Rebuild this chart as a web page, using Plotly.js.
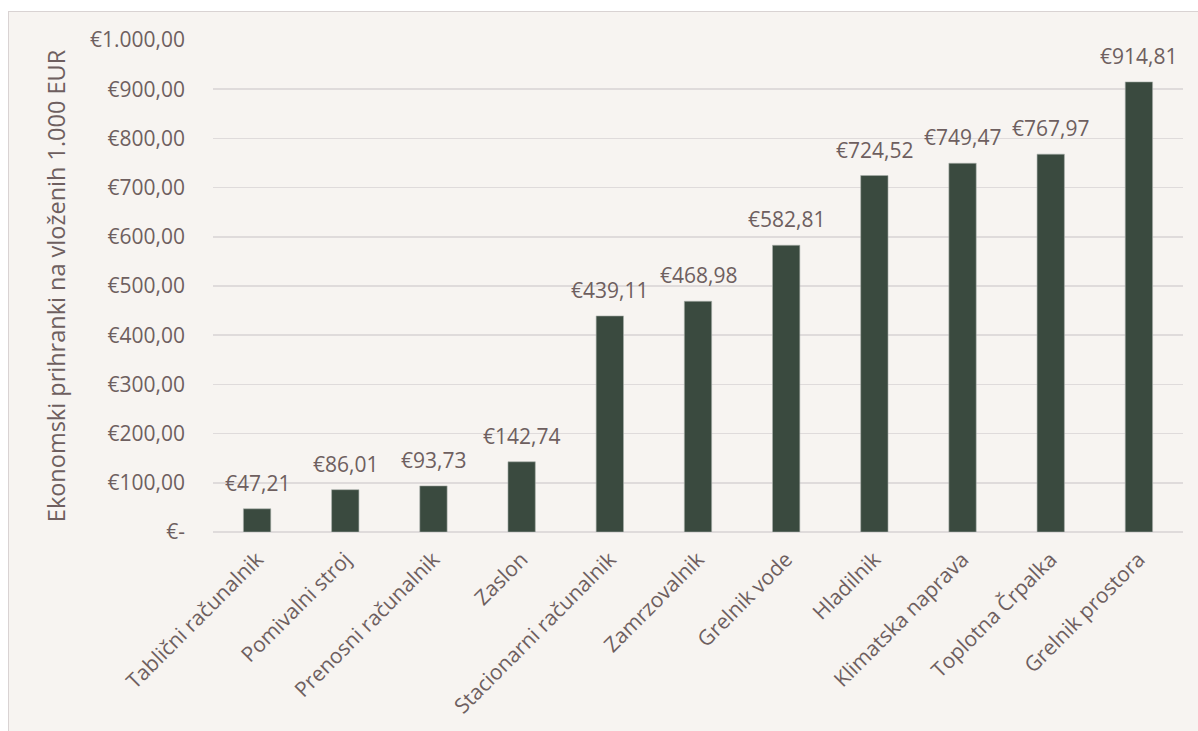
<!DOCTYPE html>
<html>
<head>
<meta charset="utf-8">
<script src="https://cdn.plot.ly/plotly-3.0.1.min.js"></script>
<style>
html,body{margin:0;padding:0;background:#ffffff;width:1198px;height:731px;overflow:hidden;}
#frame{position:absolute;left:8px;top:11px;width:1200px;height:730px;border-left:1.5px solid #d9d3d3;border-top:1.5px solid #d9d3d3;background:#f7f4f1;}
#chart{position:absolute;left:9px;top:12px;width:1189px;height:719px;}
</style>
</head>
<body>
<div id="frame"></div>
<div id="chart"></div>
<script>
const categories = ["Tablični računalnik","Pomivalni stroj","Prenosni računalnik","Zaslon","Stacionarni računalnik","Zamrzovalnik","Grelnik vode","Hladilnik","Klimatska naprava","Toplotna Črpalka","Grelnik prostora"];
const values = [47.21,86.01,93.73,142.74,439.11,468.98,582.81,724.52,749.47,767.97,914.81];
const yTickVals = [0,100,200,300,400,500,600,700,800,900,1000];
const yTitle = "Ekonomski prihranki na vloženih 1.000 EUR";

function eur(v){
  if(v===0) return "€-";
  const parts = v.toFixed(2).split(".");
  const intPart = parts[0].replace(/\B(?=(\d{3})+(?!\d))/g, ".");
  return "€" + intPart + "," + parts[1];
}
const labels = values.map(eur);
const yTickText = yTickVals.map(eur);

const fontColor = "#6e5f5f";
const fontFam = "Open Sans, sans-serif";

const annotations = categories.map((c, i) => ({
  x: c, y: values[i], xref: "x", yref: "y",
  text: labels[i], showarrow: false,
  yanchor: "middle", xanchor: "center", yshift: 26,
  font: {family: fontFam, size: 21, color: fontColor}
}));

Plotly.newPlot("chart", [{
  type: "bar",
  x: categories,
  y: values,
  marker: {color: "#3a4a3f", line: {color: "#aab0ab", width: 0.6}},
  hoverinfo: "skip"
}], {
  width: 1189, height: 719,
  paper_bgcolor: "rgba(0,0,0,0)",
  plot_bgcolor: "rgba(0,0,0,0)",
  margin: {l: 204, r: 15, t: 28, b: 199},
  bargap: 0.69,
  showlegend: false,
  font: {family: fontFam, size: 20, color: fontColor},
  annotations: annotations,
  xaxis: {
    tickangle: -45,
    tickfont: {family: fontFam, size: 21, color: fontColor},
    showgrid: false, zeroline: false, showline: false, ticks: "",
    ticklabelstandoff: 10,
    automargin: false
  },
  yaxis: {
    range: [0, 1000],
    tickvals: yTickVals,
    ticktext: yTickText,
    tickfont: {family: fontFam, size: 21, color: fontColor},
    gridcolor: "#dfdbdb", gridwidth: 1.5,
    zeroline: true, zerolinecolor: "#dfdbdb", zerolinewidth: 1.5,
    showline: false, ticks: "", ticklabelstandoff: 27,
    automargin: false,
    title: {text: yTitle, font: {family: fontFam, size: 23.5, color: fontColor}, standoff: 17}
  }
}, {displayModeBar: false, staticPlot: true});
</script>
</body>
</html>
